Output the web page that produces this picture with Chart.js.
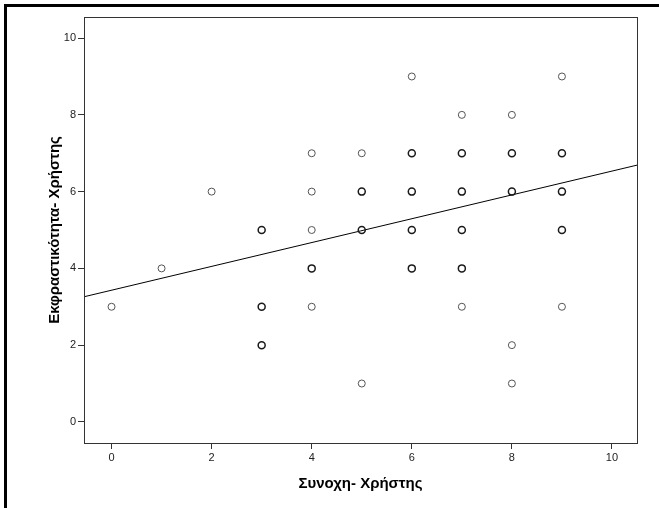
<!DOCTYPE html>
<html>
<head>
<meta charset="utf-8">
<script src="https://cdn.jsdelivr.net/npm/chart.js@4/dist/chart.umd.min.js"></script>
<style>
    html, body { margin: 0; padding: 0; background: #fff; }
    #wrap { position: relative; width: 659px; height: 508px; }
</style>
</head>
<body>
<div id="wrap"><canvas id="scatterChart" width="659" height="508"></canvas></div>
<script>
/* ====== DATA ====== */
// Συνοχη- Χρήστης (x), Εκφραστικότητα- Χρήστης (y), count>1 = overlapping points (drawn bolder)
const cohesion =    [0, 1, 2, 3, 3, 3, 4, 4, 4, 4, 4, 5, 5, 5, 5, 6, 6, 6, 6, 6, 7, 7, 7, 7, 7, 7, 8, 8, 8, 8, 8, 9, 9, 9, 9, 9];
const expressive =  [3, 4, 6, 5, 3, 2, 7, 6, 5, 4, 3, 7, 6, 5, 1, 9, 7, 6, 5, 4, 8, 7, 6, 5, 4, 3, 8, 7, 6, 2, 1, 9, 7, 6, 5, 3];
const counts =      [1, 1, 1, 2, 2, 2, 1, 1, 1, 2, 1, 1, 2, 2, 1, 1, 2, 2, 2, 2, 1, 2, 2, 2, 2, 1, 1, 2, 2, 1, 1, 1, 2, 2, 2, 1];

// fit line end points
const fitX = [-0.55, 10.5];
const fitY = [3.26, 6.69];

const tickValues = [0, 2, 4, 6, 8, 10];
const xTitle = "Συνοχη- Χρήστης";
const yTitle = "Εκφραστικότητα- Χρήστης";

/* ====== PLUGINS ====== */
const framePlugin = {
    id: "frame",
    beforeDraw(chart) {
        const ctx = chart.ctx;
        ctx.save();
        ctx.fillStyle = "#fff";
        ctx.fillRect(0, 0, chart.width, chart.height);
        ctx.fillStyle = "#000";
        ctx.fillRect(4, 4, 3, chart.height - 4);
        ctx.fillRect(4, 4, chart.width - 4, 3);
        ctx.restore();
    },
    afterDraw(chart) {
        const a = chart.chartArea;
        const ctx = chart.ctx;
        ctx.save();
        ctx.strokeStyle = "#333";
        ctx.lineWidth = 1;
        ctx.strokeRect(a.left + 0.5, a.top + 0.5, a.right - a.left, a.bottom - a.top);
        ctx.restore();
    }
};

/* ====== CHART ====== */
const points = cohesion.map((x, i) => ({ x: x, y: expressive[i] }));
const tickFont = { family: "Arial, 'Liberation Sans', sans-serif", size: 11 };
const titleFont = { family: "Arial, 'Liberation Sans', sans-serif", size: 15, weight: "bold" };

new Chart(document.getElementById("scatterChart"), {
    type: "scatter",
    data: {
        datasets: [
            {
                label: "points",
                data: points,
                pointRadius: 3.5,
                pointBackgroundColor: "rgba(0,0,0,0)",
                pointBorderColor: counts.map(c => c > 1 ? "#1a1a1a" : "#555"),
                pointBorderWidth: counts.map(c => c > 1 ? 1.5 : 1)
            },
            {
                label: "fit",
                data: fitX.map((x, i) => ({ x: x, y: fitY[i] })),
                showLine: true,
                borderColor: "#000",
                borderWidth: 1,
                pointRadius: 0
            }
        ]
    },
    options: {
        responsive: false,
        animation: false,
        layout: { padding: { left: 0, top: 17, right: 22, bottom: 0 } },
        plugins: { legend: { display: false }, tooltip: { enabled: false } },
        scales: {
            x: {
                type: "linear",
                min: -0.55,
                max: 10.5,
                afterFit(s) { s.height = 65; },
                afterBuildTicks(s) { s.ticks = tickValues.map(v => ({ value: v })); },
                grid: { drawOnChartArea: false, drawTicks: true, tickLength: 6, color: "#333" },
                border: { display: true, color: "#333" },
                ticks: { font: tickFont, color: "#222", padding: 2, maxRotation: 0 },
                title: { display: true, text: xTitle, font: titleFont, color: "#000", padding: { top: 0, bottom: 15 } }
            },
            y: {
                type: "linear",
                min: -0.55,
                max: 10.55,
                afterFit(s) { s.width = 84; },
                afterBuildTicks(s) { s.ticks = tickValues.map(v => ({ value: v })); },
                grid: { drawOnChartArea: false, drawTicks: true, tickLength: 6, color: "#333" },
                border: { display: true, color: "#333" },
                ticks: { font: tickFont, color: "#222", padding: 2 },
                title: { display: true, text: yTitle, font: titleFont, color: "#000", padding: { top: 46, bottom: 0 } }
            }
        }
    },
    plugins: [framePlugin]
});
</script>
</body>
</html>
